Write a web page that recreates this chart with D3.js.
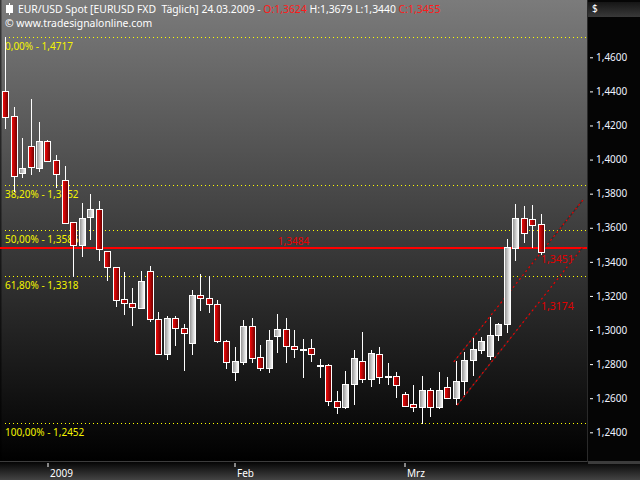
<!DOCTYPE html>
<html><head><meta charset="utf-8">
<script src="https://cdn.jsdelivr.net/npm/d3@7"></script>
<style>html,body{margin:0;padding:0;background:#000;overflow:hidden}svg{display:block}</style>
</head><body><svg id="c" width="640" height="480"></svg>
<script>
const dates = ["25.12.2008","26.12.2008","29.12.2008","30.12.2008","31.12.2008","01.01.2009","02.01.2009",
"05.01.2009","06.01.2009","07.01.2009","08.01.2009","09.01.2009","12.01.2009","13.01.2009","14.01.2009","15.01.2009","16.01.2009",
"19.01.2009","20.01.2009","21.01.2009","22.01.2009","23.01.2009","26.01.2009","27.01.2009","28.01.2009","29.01.2009","30.01.2009",
"02.02.2009","03.02.2009","04.02.2009","05.02.2009","06.02.2009","09.02.2009","10.02.2009","11.02.2009","12.02.2009","13.02.2009",
"16.02.2009","17.02.2009","18.02.2009","19.02.2009","20.02.2009","23.02.2009","24.02.2009","25.02.2009","26.02.2009","27.02.2009",
"02.03.2009","03.03.2009","04.03.2009","05.03.2009","06.03.2009","09.03.2009","10.03.2009","11.03.2009","12.03.2009","13.03.2009",
"16.03.2009","17.03.2009","18.03.2009","19.03.2009","20.03.2009","23.03.2009","24.03.2009"];
const open  = [1.4402,1.4255,1.3919,1.4079,1.3952,1.4109,1.3997,1.3880,1.3633,1.3498,1.3661,1.3710,1.3463,1.3367,1.3181,1.3156,1.3130,
1.3346,1.3064,1.2862,1.3068,1.3009,1.2921,1.3203,1.3185,1.3151,1.2935,1.2754,1.2813,1.3023,1.2839,1.2778,1.2966,1.3005,1.2909,1.2889,1.2892,
1.2792,1.2792,1.2581,1.2549,1.2686,1.2816,1.2710,1.2862,1.2722,1.2733,1.2624,1.2566,1.2546,1.2651,1.2546,1.2667,1.2600,1.2702,1.2824,1.2882,
1.2849,1.2971,1.3033,1.3482,1.3655,1.3649,1.3624];
const high  = [1.4717,1.4310,1.4128,1.4355,1.4222,1.4112,1.4027,1.3962,1.3636,1.3746,1.3798,1.3756,1.3466,1.3370,1.3340,1.3244,1.3347,
1.3375,1.3105,1.3085,1.3081,1.3034,1.3234,1.3326,1.3316,1.3179,1.2940,1.2898,1.3058,1.3071,1.2911,1.2999,1.3093,1.3068,1.2999,1.2946,1.2946,
1.2829,1.2798,1.2641,1.2759,1.2882,1.2987,1.2882,1.2898,1.2807,1.2751,1.2637,1.2676,1.2730,1.2657,1.2751,1.2725,1.2819,1.2872,1.2951,1.2960,
1.3077,1.3042,1.3532,1.3739,1.3727,1.3733,1.3679];
const low   = [1.4179,1.3811,1.3893,1.3909,1.3928,1.3990,1.3831,1.3625,1.3312,1.3430,1.3528,1.3406,1.3289,1.3136,1.3091,1.3024,1.3128,
1.3048,1.2857,1.2823,1.2907,1.2760,1.2854,1.3112,1.3101,1.2921,1.2769,1.2702,1.2794,1.2807,1.2760,1.2745,1.2866,1.2807,1.2833,1.2719,1.2813,
1.2719,1.2555,1.2506,1.2537,1.2561,1.2690,1.2663,1.2686,1.2678,1.2604,1.2546,1.2520,1.2448,1.2487,1.2534,1.2593,1.2559,1.2618,1.2731,1.2859,
1.2825,1.2933,1.2983,1.3406,1.3512,1.3479,1.3440];
const close = [1.4252,1.3905,1.3950,1.3958,1.4109,1.3993,1.3913,1.3629,1.3498,1.3655,1.3710,1.3473,1.3367,1.3179,1.3156,1.3133,1.3287,
1.3062,1.2862,1.3068,1.3009,1.2980,1.3205,1.3185,1.3152,1.2935,1.2810,1.2817,1.3023,1.2837,1.2778,1.2941,1.3005,1.2907,1.2886,1.2889,1.2862,
1.2792,1.2581,1.2551,1.2686,1.2833,1.2710,1.2868,1.2722,1.2731,1.2680,1.2555,1.2548,1.2651,1.2546,1.2651,1.2600,1.2702,1.2824,1.2886,1.2935,
1.2971,1.3035,1.3485,1.3655,1.3571,1.3617,1.3455];
const yTicks = [1.24,1.26,1.28,1.30,1.32,1.34,1.36,1.38,1.40,1.42,1.44,1.46];
const xTickDates = ["01.01.2009","02.02.2009","02.03.2009"];
const xTickLabels = ["2009","Feb","Mrz"];
const fibValues = [1.4717,1.3852,1.3585,1.3318,1.2452];
const fibPercents = ["0,00%","38,20%","50,00%","61,80%","100,00%"];
const hLineValue = 1.3484;
const trendUpperIdx = [52.8, 68], trendUpperVal = [1.2813, 1.3764];
const trendLowerIdx = [53.2, 68], trendLowerVal = [1.2560, 1.3487];
const trendLabelVals = [1.3451, 1.3174];
const headerTitle = "EUR/USD Spot [EURUSD FXD  Täglich] 24.03.2009 - ";
const headerOHLC = [["O:",1.3624],["H:",1.3679],["L:",1.3440],["C:",1.3455]];

const loc = d3.formatLocale({decimal:",",thousands:".",grouping:[3],currency:["","$"]});
const f4 = loc.format(".4f");
const FONT = "'Noto Sans', 'Liberation Sans', sans-serif";

const svg = d3.select("#c");
const W = 640, H = 480, PR = 587, PB = 462;
const defs = svg.append("defs");
const bg = defs.append("linearGradient").attr("id","bg").attr("x1",0).attr("y1",0).attr("x2",0).attr("y2",1);
bg.append("stop").attr("offset","0%").attr("stop-color","#7b7b7b");
bg.append("stop").attr("offset","100%").attr("stop-color","#000000");
const gr = defs.append("linearGradient").attr("id","gr").attr("x1",0).attr("y1",0).attr("x2",1).attr("y2",0);
gr.append("stop").attr("offset","0%").attr("stop-color","#ff0a0a");
gr.append("stop").attr("offset","100%").attr("stop-color","#640000");
const gw = defs.append("linearGradient").attr("id","gw").attr("x1",0).attr("y1",0).attr("x2",1).attr("y2",0);
gw.append("stop").attr("offset","0%").attr("stop-color","#8c8c8c");
gw.append("stop").attr("offset","100%").attr("stop-color","#ffffff");
const gax = defs.append("linearGradient").attr("id","gax").attr("x1",0).attr("y1",0).attr("x2",0).attr("y2",1);
gax.append("stop").attr("offset","0%").attr("stop-color","#050505");
gax.append("stop").attr("offset","100%").attr("stop-color","#444444");
const ghd = defs.append("linearGradient").attr("id","ghd").attr("x1",0).attr("y1",0).attr("x2",0).attr("y2",1);
ghd.append("stop").attr("offset","0%").attr("stop-color","#151515");
ghd.append("stop").attr("offset","100%").attr("stop-color","#3a3a3a");
defs.append("clipPath").attr("id","clip").append("rect").attr("x",0).attr("y",0).attr("width",PR).attr("height",PB-1);

// backgrounds
svg.append("rect").attr("width",W).attr("height",H).attr("fill","#050505");
svg.append("rect").attr("x",0).attr("y",0).attr("width",PR).attr("height",PB).attr("fill","url(#bg)");
svg.append("rect").attr("x",0).attr("y",0).attr("width",1.5).attr("height",PB).attr("fill","#000").attr("opacity",0.55);
svg.append("rect").attr("x",0).attr("y",PB).attr("width",W).attr("height",H-PB).attr("fill","url(#gax)");
svg.append("rect").attr("x",0).attr("y",PB-1).attr("width",PR+1).attr("height",1).attr("fill","#3c3c3c");
svg.append("rect").attr("x",PR).attr("y",0).attr("width",1).attr("height",PB).attr("fill","#2a2a2a");
svg.append("rect").attr("x",PR+1).attr("y",PB-1).attr("width",W-PR).attr("height",3).attr("fill","#3c3c3c");
svg.append("rect").attr("x",588).attr("y",2).attr("width",52).attr("height",15).attr("fill","url(#ghd)");
svg.append("text").attr("x",592).attr("y",12).attr("fill","#fff").attr("font-family",FONT).attr("font-size","10px").text("$");

const x = d3.scaleLinear().domain([0, dates.length-1]).range([5, 540.5]);
const y = d3.scaleLinear().domain([1.24, 1.46]).range([432.3, 57.3]);

const plot = svg.append("g").attr("clip-path","url(#clip)");

// fib levels
fibValues.forEach((v,k)=>{
  const yy = Math.round(y(v)) + 0.5;
  plot.append("line").attr("x1",5).attr("x2",PR).attr("y1",yy).attr("y2",yy)
    .attr("stroke","#ffff00").attr("stroke-width",1).attr("stroke-dasharray","1,3");
  plot.append("text").attr("x",5).attr("y",yy+12).attr("fill","#f4f400")
    .attr("font-family",FONT).attr("font-size","10px").style("white-space","pre")
    .text(fibPercents[k] + " - " + f4(fibValues[k]));
});

// horizontal red line
const hy = Math.round(y(hLineValue));
plot.append("line").attr("x1",0).attr("x2",PR).attr("y1",hy).attr("y2",hy).attr("stroke","#ff0000").attr("stroke-width",2);
plot.append("text").attr("x",PR/2).attr("y",hy-3.5).attr("text-anchor","middle").attr("fill","#e80000")
  .attr("font-family",FONT).attr("font-size","10px").text(f4(hLineValue));

// trend lines
const tl = d3.line().x(d=>x(d[0])).y(d=>y(d[1]));
[[trendUpperIdx,trendUpperVal],[trendLowerIdx,trendLowerVal]].forEach(([ix,vv])=>{
  const pts = ix.map((d,k)=>[d,vv[k]]);
  plot.append("path").attr("d",tl(pts)).attr("fill","none").attr("stroke","#2e2e2e").attr("stroke-width",1.2);
  plot.append("path").attr("d",tl(pts)).attr("fill","none").attr("stroke","#ee0000").attr("stroke-width",1.2).attr("stroke-dasharray","2,3");
});
trendLabelVals.forEach(v=>{
  plot.append("text").attr("x",541).attr("y",y(v)+10).attr("fill","#e00000")
    .attr("font-family",FONT).attr("font-size","10.5px").text(f4(v));
});

// candles
const idx = d3.range(dates.length);
const cg = plot.append("g");
idx.forEach(i=>{
  const cx = Math.round(x(i));
  const o = open[i], c = close[i];
  cg.append("line").attr("x1",cx+0.5).attr("x2",cx+0.5).attr("y1",Math.round(y(high[i]))).attr("y2",Math.round(y(low[i])))
    .attr("stroke","#ffffff").attr("stroke-width",1);
  const top = Math.round(y(Math.max(o,c))), bot = Math.round(y(Math.min(o,c)));
  const h = Math.max(bot-top,1);
  cg.append("rect").attr("x",cx-2.5).attr("y",top+0.5).attr("width",6).attr("height",h)
    .attr("fill", c < o ? "url(#gr)" : "url(#gw)").attr("stroke","#ffffff").attr("stroke-width",1);
});

// y axis
const yAxis = d3.axisRight(y).tickValues(yTicks).tickSize(3).tickPadding(3).tickFormat(f4);
const ya = svg.append("g").attr("transform",`translate(590,0)`).call(yAxis);
ya.select(".domain").remove();
ya.selectAll("line").attr("stroke","#ffffff");
ya.selectAll("text").attr("fill","#eef2ff").attr("font-family",FONT).attr("font-size","10px");

// x axis
const xTickIdx = xTickDates.map(d=>dates.indexOf(d));
const xAxis = d3.axisBottom(x).tickValues(xTickIdx).tickSize(4).tickPadding(3)
  .tickFormat((d,k)=>xTickLabels[k]);
const xa = svg.append("g").attr("transform",`translate(0,${PB+1})`).call(xAxis);
xa.select(".domain").remove();
xa.selectAll("line").attr("stroke","#ffffff");
xa.selectAll("text").attr("fill","#ffffff").attr("font-family",FONT).attr("font-size","10px")
  .attr("text-anchor","start").attr("dx","2");

// header
const hd = svg.append("g");
hd.append("line").attr("x1",9.5).attr("x2",9.5).attr("y1",3).attr("y2",15).attr("stroke","#fff");
hd.append("rect").attr("x",6.5).attr("y",5.5).attr("width",6).attr("height",7).attr("fill","#fff").attr("stroke","#fff");
const ht = hd.append("text").attr("x",18).attr("y",13).attr("font-family",FONT).attr("font-size","10.4px")
  .attr("fill","#ffffff").style("white-space","pre");
ht.append("tspan").text(headerTitle);
headerOHLC.forEach((p,k)=>{
  ht.append("tspan").attr("fill", (k===0||k===3) ? "#ff1a1a" : "#ffffff").text(p[0] + f4(p[1]));
  if (k<3) ht.append("tspan").text(" ");
});
hd.append("text").attr("x",5).attr("y",27).attr("font-family",FONT).attr("font-size","10.4px")
  .attr("fill","#ffffff").text("© www.tradesignalonline.com");
</script>
</body></html>
